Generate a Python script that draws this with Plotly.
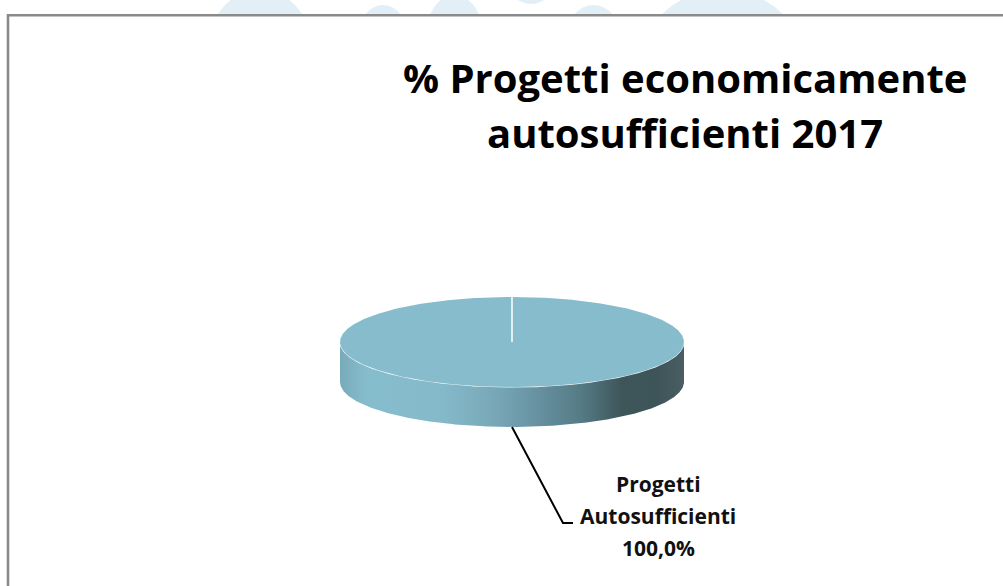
import numpy as np
import plotly.graph_objects as go

# ---------------- data ----------------
categories = ["Progetti Autosufficienti"]
values = [100.0]
label_words = ["Progetti", "Autosufficienti"]
title_lines = ["% Progetti economicamente", "autosufficienti 2017"]

# ---------------- layout / style constants ----------------
W, H = 1003, 586
CX, CY, RX, RY, DEPTH = 512, 342, 172, 45, 40   # pseudo-3D pie geometry (pixels)
START_ANGLE = 90.0                              # first slice starts at 12 o'clock
TOP_COLOR = "#86bccc"
SIDE_SCALE = [
    [0.00, "#78abba"],
    [0.08, "#86bdcd"],
    [0.30, "#84b9c9"],
    [0.45, "#78a8b7"],
    [0.58, "#6690a0"],
    [0.70, "#557b85"],
    [0.82, "#3e555a"],
    [0.92, "#3d5459"],
    [1.00, "#4a5e63"],
]
FONT = "Open Sans, Liberation Sans, Arial, sans-serif"


def ell(t_deg, dy=0.0):
    t = np.radians(t_deg)
    return CX + RX * np.cos(t), CY - RY * np.sin(t) + dy


fig = go.Figure()
total = float(sum(values))
a0 = START_ANGLE
slices = []
for cat, v in zip(categories, values):
    sweep = v / total * 360.0
    a1 = a0 - sweep
    slices.append((cat, v, a0, a1))
    a0 = a1

# side walls (front half only)
for cat, v, s0, s1 in slices:
    ts = np.linspace(s0, s1, 1441)
    front = ts[np.sin(np.radians(ts)) <= 1e-9]
    if len(front) < 2:
        continue
    xt, yt = ell(front)
    xb, yb = ell(front[::-1], DEPTH)
    fig.add_trace(go.Scatter(
        x=np.concatenate([xt, xb, xt[:1]]),
        y=np.concatenate([yt, yb, yt[:1]]),
        mode="lines", line=dict(width=0, color="rgba(0,0,0,0)"),
        fill="toself",
        fillgradient=dict(type="horizontal", colorscale=SIDE_SCALE),
        hoverinfo="skip", showlegend=False,
    ))
    # white highlight along the top front rim
    fig.add_trace(go.Scatter(
        x=xt, y=yt, mode="lines",
        line=dict(color="rgba(255,255,255,0.9)", width=1.2),
        hoverinfo="skip", showlegend=False,
    ))

# top faces
for cat, v, s0, s1 in slices:
    ts = np.linspace(s0, s1, 721)
    xa, ya = ell(ts)
    if abs(s0 - s1) >= 359.999:
        xs, ys = xa, ya
    else:
        xs = np.concatenate([[CX], xa, [CX]])
        ys = np.concatenate([[CY], ya, [CY]])
    fig.add_trace(go.Scatter(
        x=xs, y=ys, mode="lines", line=dict(width=0, color=TOP_COLOR),
        fill="toself", fillcolor=TOP_COLOR,
        name=cat, hoverinfo="name", showlegend=False,
    ))
    # slice boundary (white)
    bx, by = ell(s0)
    fig.add_trace(go.Scatter(
        x=[CX, bx], y=[CY, by], mode="lines",
        line=dict(color="white", width=1.5),
        hoverinfo="skip", showlegend=False,
    ))

# data label with leader line
LABEL_X = 658
LABEL_BASE = [484, 516, 548]
ELBOW_X, ELBOW_Y, LEAD_END_X = 563, 523, 573
for cat, v, s0, s1 in slices:
    mid = (s0 + s1) / 2.0
    sx, sy = ell(mid, DEPTH)
    fig.add_trace(go.Scatter(
        x=[sx, ELBOW_X, LEAD_END_X], y=[sy, ELBOW_Y, ELBOW_Y], mode="lines",
        line=dict(color="black", width=2),
        hoverinfo="skip", showlegend=False,
    ))
    pct = f"{v / total * 100:.1f}%".replace(".", ",")
    for txt, yy in zip(label_words + [pct], LABEL_BASE):
        fig.add_annotation(
            x=LABEL_X, y=yy, xref="x", yref="y", text=f"<b>{txt}</b>",
            showarrow=False, xanchor="center", yanchor="middle",
            font=dict(family=FONT, size=21, color="#111111"),
        )

# title
for txt, yy in zip(title_lines, [77, 132]):
    fig.add_annotation(
        x=685, y=yy, xref="x", yref="y", text=f"<b>{txt}</b>",
        showarrow=False, xanchor="center", yanchor="middle",
        font=dict(family=FONT, size=40, color="#000000"),
    )

# background: faint watermark blobs above the chart frame + chart frame
blobs = [
    (210, -10, 310, 95),
    (360, 5, 406, 60),
    (424, -5, 485, 90),
    (505, -55, 557, 4),
    (566, 5, 621, 70),
    (645, -10, 800, 120),
]
shapes = []
for x0, y0, x1, y1 in blobs:
    shapes.append(dict(type="circle", xref="x", yref="y", x0=x0, y0=y0, x1=x1, y1=y1,
                       fillcolor="#e3eff7", line=dict(width=0), layer="below"))
shapes.append(dict(type="rect", xref="x", yref="y", x0=8, y0=15.3, x1=1030, y1=640,
                   fillcolor="white", line=dict(color="#8a8a8a", width=2.6), layer="below"))

fig.update_layout(
    width=W, height=H,
    margin=dict(l=0, r=0, t=0, b=0),
    paper_bgcolor="white", plot_bgcolor="white",
    xaxis=dict(range=[0, W], visible=False, fixedrange=True),
    yaxis=dict(range=[H, 0], visible=False, fixedrange=True),
    shapes=shapes,
    showlegend=False,
    hovermode="closest",
)

fig.write_html(
    "out.html",
    config={"displayModeBar": False},
    post_script="document.body.style.margin='0';document.body.style.overflow='hidden';",
)
